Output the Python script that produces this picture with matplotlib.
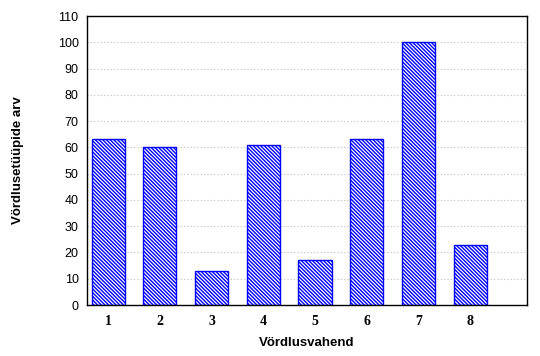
import matplotlib
matplotlib.use("Agg")
import matplotlib.pyplot as plt

categories = [1, 2, 3, 4, 5, 6, 7, 8]
values = [63, 60, 13, 61, 17, 63, 100, 23]
y_ticks = list(range(0, 111, 10))

plt.rcParams['font.family'] = ['Liberation Sans', 'DejaVu Sans']
plt.rcParams['hatch.linewidth'] = 1.0
plt.rcParams['hatch.color'] = 'blue'

fig = plt.figure(figsize=(5.4, 3.56), dpi=100)
ax = fig.add_axes([87 / 540, 1 - 305 / 356, 440 / 540, 289 / 356])

for y in y_ticks[1:-1]:
    ax.axhline(y, color='#c0c0c0', linestyle=(0, (1, 2)), linewidth=0.8, zorder=0)

# dense diagonal hatch like the original
ax.bar(categories, values, width=0.64, color='white', edgecolor='blue',
       hatch='\\' * 9, linewidth=1.0, zorder=2)

ax.set_xlim(0.59, 9.1)
ax.set_ylim(0, 110)
ax.set_yticks(y_ticks)
ax.set_xticks(categories)
ax.set_xticklabels([str(c) for c in categories], fontfamily='Liberation Serif',
                   fontweight='bold', fontsize=10)
ax.tick_params(axis='y', labelsize=9, length=0, pad=6)
ax.tick_params(axis='x', length=0, pad=7)

for s in ax.spines.values():
    s.set_linewidth(1.0)
    s.set_color('black')

ax.set_xlabel('Vördlusvahend', fontweight='bold', fontsize=9.5, labelpad=7)
ax.set_ylabel('Vördlusetüüpide arv', fontweight='bold', fontsize=9.5, labelpad=24)

fig.savefig('out.png', dpi=100)
